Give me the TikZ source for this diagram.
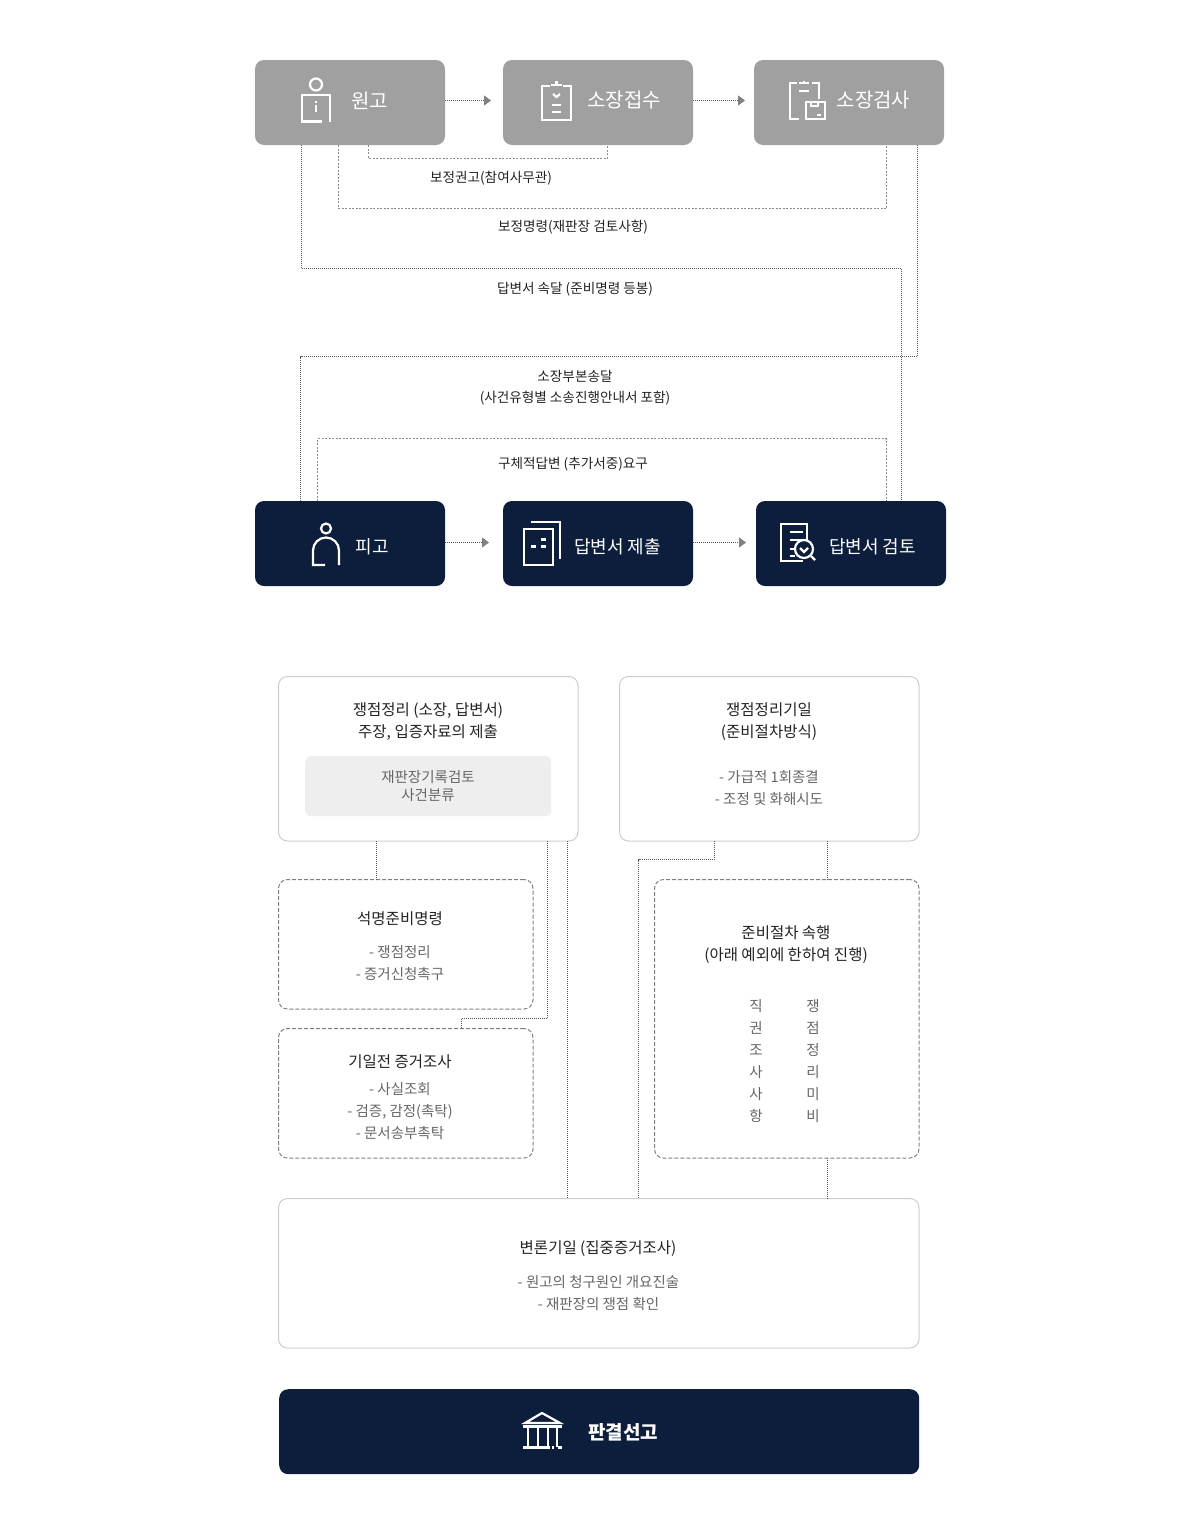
\documentclass[tikz,border=0pt]{standalone}
\usepackage{fontspec}
\setmainfont{Noto Sans CJK KR}
\usetikzlibrary{arrows.meta,positioning}
\definecolor{navy}{HTML}{0C1E3C}
\definecolor{stone}{HTML}{A0A0A0}
\definecolor{inkdark}{HTML}{222222}
\definecolor{inkgrey}{HTML}{666666}
\tikzset{
  stepbox/.style={rounded corners=9pt, minimum width=190pt, minimum height=85pt, inner sep=0pt, outer sep=0pt},
  plainbox/.style={draw=black!20, line width=1pt, rounded corners=9pt, inner sep=0pt, outer sep=0pt},
  dashbox/.style={draw=black!50, line width=1pt, dash pattern=on 4pt off 2pt, rounded corners=9pt, inner sep=0pt, outer sep=0pt},
  steptext/.style={text=white, font=\fontsize{20}{22}\selectfont},
  steptextb/.style={text=white, font=\fontsize{18}{22}\selectfont},
  lab/.style={text=inkdark, font=\fontsize{13.6}{21}\selectfont, align=center, inner sep=0pt},
  headtext/.style={text=inkdark, font=\fontsize{15.5}{22}\selectfont, align=center, inner sep=0pt},
  subtext/.style={text=inkgrey, font=\fontsize{14.5}{22}\selectfont, align=center, inner sep=0pt},
  link/.style={draw=black!65, line width=0.8pt, dash pattern=on 1pt off 1pt},
  thin link/.style={draw=black!45, line width=0.8pt, dash pattern=on 2pt off 1.5pt},
  flow/.style={link, -{Triangle[length=7pt,width=10pt,color=black!50]}},
  icon/.style={draw=white, line width=2.2pt},
}
\begin{document}
\begin{tikzpicture}[x=1pt,y=-1pt]
\useasboundingbox (0,0) rectangle (1200,1534);

% top row
\node[stepbox, fill=stone, anchor=north west] (wongo) at (255,60) {};
\node[stepbox, fill=stone, anchor=north west] (filing) at (503,60) {};
\node[stepbox, fill=stone, anchor=north west] (check) at (754,60) {};
\node[steptext] (wongotxt) at (369.5,100.5) {원고};
\node[steptext] (filingtxt) at (624,100.5) {소장접수};
\node[steptext] (checktxt) at (873.5,100.5) {소장검사};

% bottom row
\node[stepbox, fill=navy, anchor=north west] (pigo) at (255,501) {};
\node[stepbox, fill=navy, anchor=north west] (answer) at (503,501) {};
\node[stepbox, fill=navy, anchor=north west] (review) at (756,501) {};
\node[steptextb] (pigotxt) at (372.5,546.5) {피고};
\node[steptextb] (answertxt) at (617.5,546.5) {답변서 제출};
\node[steptextb] (reviewtxt) at (872.5,546.5) {답변서 검토};

% arrows
\coordinate (f1) at ([yshift=2]wongo.east);
\coordinate (f2) at ([yshift=2]filing.east);
\coordinate (f3) at ([yshift=1]pigo.east);
\coordinate (f4) at ([yshift=1]answer.east);
\draw[flow] (f1) -- ++(46,0);
\draw[flow] (f2) -- ++(52,0);
\draw[flow] (f3) -- ++(44,0);
\draw[flow] (f4) -- ++(53,0);

% links between the rows
\coordinate (y1) at (0,158.5);
\coordinate (y2) at (0,208.5);
\coordinate (y3) at (0,268.5);
\coordinate (y4) at (0,356.5);
\coordinate (y5) at (0,438.5);
\coordinate (a1) at ([xshift=113.5]wongo.south west);
\coordinate (b1) at ([xshift=104]filing.south west);
\coordinate (a2) at ([xshift=83.5]wongo.south west);
\coordinate (b2) at ([xshift=132.5]check.south west);
\coordinate (a3) at ([xshift=46.5]wongo.south west);
\coordinate (b3) at ([xshift=145.5]review.north west);
\coordinate (a4) at ([xshift=163.5]check.south west);
\coordinate (b4) at ([xshift=45.5]pigo.north west);
\coordinate (a5) at ([xshift=62.5]pigo.north west);
\coordinate (b5) at ([xshift=130.5]review.north west);
\draw[thin link] (a1) |- (y1 -| b1) -- (b1);
\draw[thin link] (a2) |- (y2 -| b2) -- (b2);
\draw[link] (a3) |- (y3 -| b3) -- (b3);
\draw[link] (a4) |- (y4 -| b4) -- (b4);
\draw[thin link] (a5) |- (y5 -| b5) -- (b5);

\node[lab] (l1) at (491,178) {보정권고(참여사무관)};
\node[lab] (l2) at (573,227.5) {보정명령(재판장 검토사항)};
\node[lab] (l3) at (575,289) {답변서 속달 (준비명령 등봉)};
\node[lab] (l4) at (575,387.5) {소장부본송달\\(사건유형별 소송진행안내서 포함)};
\node[lab] (l5) at (573,464.5) {구체적답변 (추가서중)요구};

% lower boxes
\node[plainbox, fill=white, anchor=north west, minimum width=299.5pt, minimum height=164.5pt] (issue) at (278.5,676.5) {};
\node[plainbox, fill=white, anchor=north west, minimum width=299.5pt, minimum height=164.5pt] (date) at (619.5,676.5) {};
\node[fill=black!6.5, rounded corners=5pt, anchor=north west, minimum width=246pt, minimum height=60pt, inner sep=0pt] (record) at (305,756) {};
\node[dashbox, anchor=north west, minimum width=254.5pt, minimum height=129.5pt] (order) at (278.5,879.5) {};
\node[dashbox, anchor=north west, minimum width=254.5pt, minimum height=129.5pt] (evid) at (278.5,1028.5) {};
\node[dashbox, anchor=north west, minimum width=264.5pt, minimum height=278.5pt] (prep) at (654.5,879.5) {};
\node[plainbox, fill=white, anchor=north west, minimum width=640.5pt, minimum height=149.5pt] (plead) at (278.5,1198.5) {};
\node[fill=navy, rounded corners=9pt, anchor=north west, minimum width=640pt, minimum height=85pt, inner sep=0pt] (verdict) at (279,1389) {};

% links between the boxes
\coordinate (y6) at (0,1018.5);
\coordinate (y7) at (0,859.5);
\coordinate (c1) at ([xshift=183]evid.north west);
\coordinate (c2) at ([xshift=360]plead.north west);
\draw[link] ([xshift=98]issue.south west) -- ([xshift=98]order.north west);
\draw[link] ([xshift=269]issue.south west) |- (y6 -| c1) -- (c1);
\draw[link] ([xshift=289]issue.south west) -- ([xshift=289]plead.north west);
\draw[link] ([xshift=95]date.south west) |- (y7 -| c2) -- (c2);
\draw[link] ([xshift=208]date.south west) -- ([xshift=173]prep.north west);
\draw[link] ([xshift=173]prep.south west) -- ([xshift=549]plead.north west);

\node[headtext] (t1) at (428,721.5) {쟁점정리 (소장, 답변서)\\주장, 입증자료의 제출};
\node[subtext, font=\fontsize{14.5}{18}\selectfont] (t2) at (428,786) {재판장기록검토\\사건분류};
\node[headtext] (t3) at (769,721.5) {쟁점정리기일\\(준비절차방식)};
\node[subtext] (t4) at (769,788) {- 가급적 1회종결\\- 조정 및 화해시도};
\node[headtext] (t5) at (400,919) {석명준비명령};
\node[subtext] (t6) at (400,963) {- 쟁점정리\\- 증거신청촉구};
\node[headtext] (t7) at (400,1061.5) {기일전 증거조사};
\node[subtext] (t8) at (400,1111) {- 사실조회\\- 검증, 감정(촉탁)\\- 문서송부촉탁};
\node[headtext] (t9) at (786,944.5) {준비절차 속행\\(아래 예외에 한하여 진행)};
\node[subtext] (t10) at (756,1061) {직\\권\\조\\사\\사\\항};
\node[subtext] (t11) at (813,1061) {쟁\\점\\정\\리\\미\\비};
\node[headtext] (t12) at (598,1248.5) {변론기일 (집중증거조사)};
\node[subtext] (t13) at (598.5,1293) {- 원고의 청구원인 개요진술\\- 재판장의 쟁점 확인};
\node[text=white, font=\fontsize{19}{24}\selectfont\bfseries, inner sep=0pt] (t14) at (623,1432) {판결선고};

% icons
\draw[icon] (316,84.5) circle (6);
\draw[icon] (321.5,121.5) -- (302,121.5) -- (302,95) -- (330,95) -- (330,122);
\draw[icon] (316,100.5) -- (316,102.5) (316,105) -- (316,112);

\draw[icon] (550,86) -- (542,86) -- (542,120) -- (571,120) -- (571,86) -- (563,86);
\draw[icon] (551,85) -- (562,85);
\draw[icon] (553,94) -- (556.5,97) -- (560,94);
\draw[icon] (552,105) -- (561,105) (552,112) -- (561,112);
\draw[icon] (556.5,81) -- (556.5,85);

\draw[icon] (797,83) -- (790,83) -- (790,119) -- (799,119);
\draw[icon] (799,83) -- (809,83) (804,81) -- (804,83) (799,91) -- (809,91);
\draw[icon] (812,83) -- (819,83) -- (819,99);
\draw[icon] (806,102) rectangle (825,119);
\draw[icon] (811,102) -- (811,106) -- (818,106) -- (818,102);
\draw[icon] (817,115) -- (821,115);

\draw[icon] (326,528.5) circle (5);
\draw[icon] (339,565) -- (339,550.5) arc (0:-180:13) -- (313,565) -- (325,565);

\draw[icon] (531,522) -- (560,522) -- (560,559);
\draw[icon] (524,529) rectangle (553,565);
\draw[icon] (531,546.5) -- (536,546.5) (541,539.5) -- (546,539.5) (541,546.5) -- (546,546.5);

\draw[icon] (807,557) -- (807,524) -- (781,524) -- (781,561) -- (803,561);
\draw[icon] (790,532) -- (803,532) (790,540) -- (803,540);
\draw[icon] (790,549) -- (795,549) (790,556) -- (795,556);
\draw[icon, fill=navy] (804,549) circle (9);
\draw[icon] (811,556) -- (815,560);
\draw[icon] (800,548) -- (804,552) -- (808,548);

\draw[icon] (525,1423) -- (542,1413) -- (560,1423) -- cycle;
\draw[icon, line width=3pt] (523,1426) -- (562,1426);
\draw[icon] (528,1427) -- (528,1447) (538,1427) -- (538,1447) (548,1427) -- (548,1447) (557,1427) -- (557,1447);
\draw[icon, line width=3pt] (523,1447.5) -- (550,1447.5) (552,1447.5) -- (554,1447.5) (558,1447.5) -- (562,1447.5);
\end{tikzpicture}
\end{document}
